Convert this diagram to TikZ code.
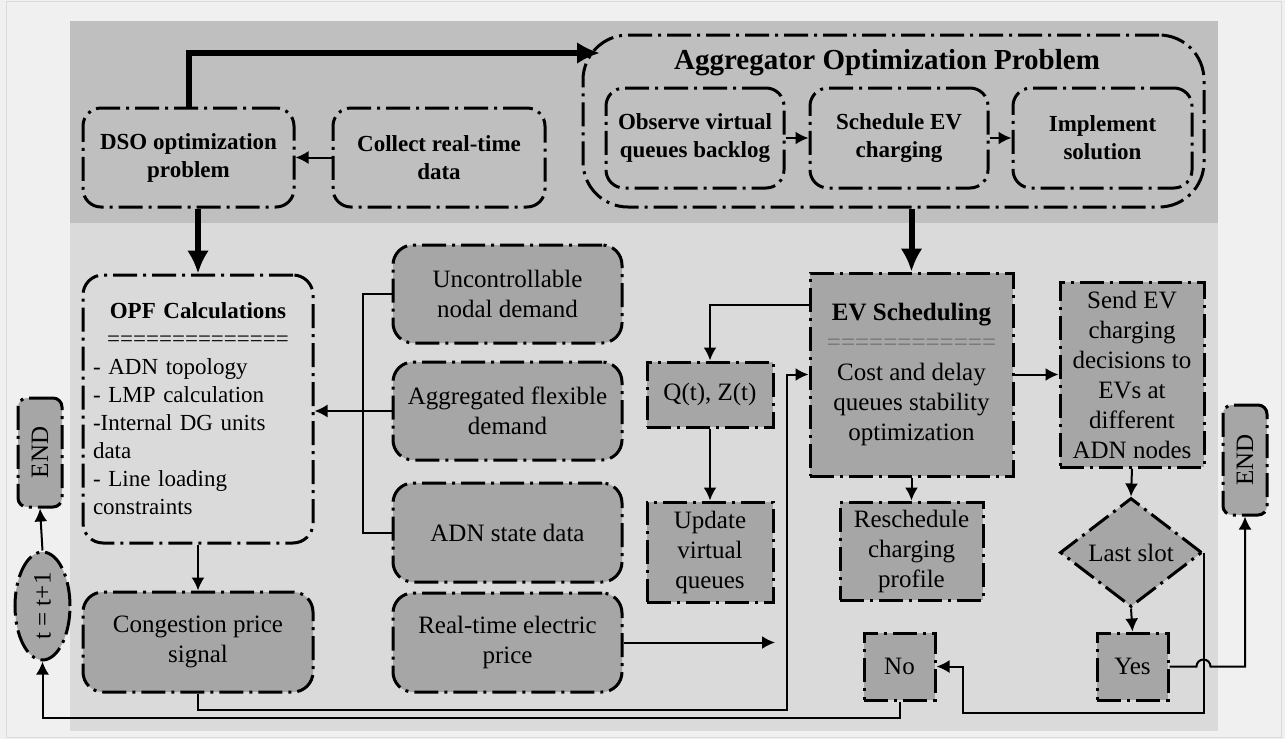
\documentclass[tikz,border=0pt]{standalone}
\usepackage{fontspec}
\setmainfont{Liberation Serif}
\usepackage{graphicx}
\usetikzlibrary{arrows.meta,shapes.geometric,calc}

\newlength{\du}
\setlength{\du}{0.5pt}

\definecolor{pagegray}{RGB}{240,240,240}
\definecolor{framegray}{RGB}{218,218,218}
\definecolor{bandtop}{RGB}{191,191,191}
\definecolor{bandlow}{RGB}{218,218,218}
\definecolor{boxgray}{RGB}{166,166,166}

\tikzset{
  dashdot/.style={line width=1.5pt, dash pattern=on 12pt off 3pt on 1.5pt off 3pt},
  topbox/.style={draw, dashdot, rounded corners=18\du, align=center, inner sep=0pt,
    font=\bfseries\fontsize{11.5}{14}\selectfont},
  greybox/.style={draw, dashdot, fill=boxgray, rounded corners=20\du, align=center, inner sep=0pt,
    minimum width=229\du, minimum height=98\du, font=\fontsize{12.5}{15}\selectfont},
  sqbox/.style={draw, dashdot, fill=boxgray, align=center, inner sep=0pt,
    font=\fontsize{12.5}{15}\selectfont},
  wire/.style={line width=1pt},
  link/.style={line width=1pt, -{Latex[length=6.5pt,width=6.5pt]}},
  bigarrow/.style={line width=3pt, -{Latex[length=11.5pt,width=11pt]}},
}

\begin{document}
\begin{tikzpicture}
\pgftransformxscale{1.000000}
\pgftransformyscale{-1.000000}
\useasboundingbox (0\du,0\du) rectangle (1285\du,739\du);
% page, frame and the two bands
\fill[pagegray] (0\du,0\du) rectangle (1285\du,739\du);
\draw[framegray, line width=1\du] (6\du,1\du) rectangle (1281\du,737\du);
\fill[bandtop] (70\du,21\du) rectangle (1218\du,223\du);
\fill[bandlow] (70\du,223\du) rectangle (1218\du,731\du);

% DSO side, top band
\node[topbox, minimum width=211\du, minimum height=99\du] (dso) at (188.5\du,157.5\du) {DSO optimization\\problem};
\node[topbox, minimum width=212\du, minimum height=99\du] (collect) at (439\du,157.5\du) {Collect real-time\\data};

% aggregator, top band
\node[draw, dashdot, rounded corners=45\du, minimum width=621\du, minimum height=172\du] (agg) at (893.5\du,121\du) {};
\node[font=\bfseries\fontsize{14.5}{17}\selectfont] (aggtitle) at (887\du,63\du) {Aggregator Optimization Problem};
\node[topbox, minimum width=178\du, minimum height=100\du] (observe) at (695\du,138\du) {Observe virtual\\queues backlog};
\node[topbox, minimum width=178\du, minimum height=100\du] (schedule) at (899\du,138\du) {Schedule EV\\charging};
\node[topbox, minimum width=179\du, minimum height=100\du] (implement) at (1102.5\du,138\du) {Implement\\solution};
\coordinate (aggin) at (600\du,53\du);

% OPF column
\node[draw, dashdot, rounded corners=20\du, minimum width=230\du, minimum height=268\du,
  inner xsep=10\du, inner ysep=0pt, text width=210\du, align=left,
  font=\fontsize{11.5}{14}\selectfont] (opf) at (198\du,409\du)
  {\makebox[\linewidth]{\bfseries OPF Calculations}\\
   \makebox[\linewidth]{==============}\\
   - ADN topology\\
   - LMP calculation\\
   -Internal DG units\\
   data\\
   - Line loading\\
   constraints};
\node[greybox, minimum width=230\du, minimum height=100\du] (congestion) at (198\du,642\du) {Congestion price\\signal};
\node[greybox, rounded corners=9\du, minimum width=44\du, minimum height=109\du] (endl) at (40\du,452.5\du) {\rotatebox{90}{END}};
\node[ellipse, draw, dashdot, fill=boxgray, inner sep=0pt, minimum width=55\du, minimum height=108\du,
  font=\fontsize{12.5}{15}\selectfont] (tinc) at (42.5\du,606\du) {\rotatebox{90}{t = t+1}};

% network data column
\node[greybox] (unc) at (507.5\du,294\du) {Uncontrollable\\nodal demand};
\node[greybox] (aggdem) at (507.5\du,411\du) {Aggregated flexible\\demand};
\node[greybox, minimum height=99\du] (adnstate) at (507.5\du,532.5\du) {ADN state data};
\node[greybox, minimum height=99\du] (rtprice) at (507.5\du,642.5\du) {Real-time electric\\price};
\coordinate (pricetip) at (775\du,642.5\du);

% queues and scheduling
\node[sqbox, minimum width=126\du, minimum height=65\du] (qz) at (710\du,394.5\du) {Q(t), Z(t)};
\node[sqbox, minimum width=126\du, minimum height=100\du] (update) at (710\du,552\du) {Update\\virtual\\queues};
\node[sqbox, minimum width=203\du, minimum height=203\du] (ev) at (911.5\du,374.5\du)
  {\textbf{EV Scheduling}\\{\color{black!55}============}\\Cost and delay\\queues stability\\optimization};
\node[sqbox, minimum width=143\du, minimum height=98\du] (resched) at (911.5\du,551\du) {Reschedule\\charging\\profile};
\node[sqbox, minimum width=144\du, minimum height=185\du] (send) at (1132\du,374.5\du)
  {Send EV\\charging\\decisions to\\EVs at\\different\\ADN nodes};
\node[diamond, draw, dashdot, fill=boxgray, aspect=1.3, inner sep=0pt, minimum width=142\du, minimum height=109\du,
  font=\fontsize{12.5}{15}\selectfont] (lastslot) at (1131\du,552.5\du) {Last slot};
\node[sqbox, minimum width=71\du, minimum height=67\du] (yes) at (1132.5\du,666.5\du) {Yes};
\node[sqbox, minimum width=71\du, minimum height=67\du] (no) at (899.5\du,666.5\du) {No};
\node[greybox, rounded corners=9\du, minimum width=44\du, minimum height=110\du] (endr) at (1245\du,460\du) {\rotatebox{90}{END}};
\coordinate (evfeed) at (787\du,374.5\du);
\coordinate (noloop) at (963\du,713\du);

% thick flow
\draw[bigarrow] (dso.north) |- (aggin);
\draw[bigarrow] (dso.south -| opf.north) -- (opf.north);
\draw[bigarrow] (agg.south -| ev.north) -- (ev.north);

% thin flow
\draw[link] (collect.west) -- (dso.east);
\draw[link] (observe.east) -- (schedule.west);
\draw[link] (schedule.east) -- (implement.west);
\draw[wire] (unc.west) -- ++(-29\du,0) |- (adnstate.west);
\draw[link] (aggdem.west) -- (aggdem.west -| opf.east);
\draw[link] (opf.south) -- (congestion.north);
\draw[link] (tinc.north) -- (endl.south);
\draw[link] (rtprice.east) -- (pricetip);
\draw[link] (congestion.south) -- ++(0,16\du) -| (evfeed) -- (ev.west);
\draw[link] ($(ev.north west)!0.163!(ev.south west)$) -| (qz.north);
\draw[link] (qz.south) -- (update.north);
\draw[link] (ev.south) -- (resched.north);
\draw[link] (ev.east) -- (send.west);
\draw[link] (send.south) -- (lastslot.north);
\draw[link] (lastslot.south) -- (yes.north);
\draw[link] (lastslot.east) -- (lastslot.east |- noloop) -- (noloop) |- (no.east);
\draw[link] (yes.east) -- ($(yes.east -| lastslot.east)+(-7\du,0)$)
  arc[start angle=180, end angle=360, radius=7\du] -| (endr.south);
\draw[link] (no.south) -- ++(0,16\du) -| (tinc.south);
\end{tikzpicture}
\end{document}
